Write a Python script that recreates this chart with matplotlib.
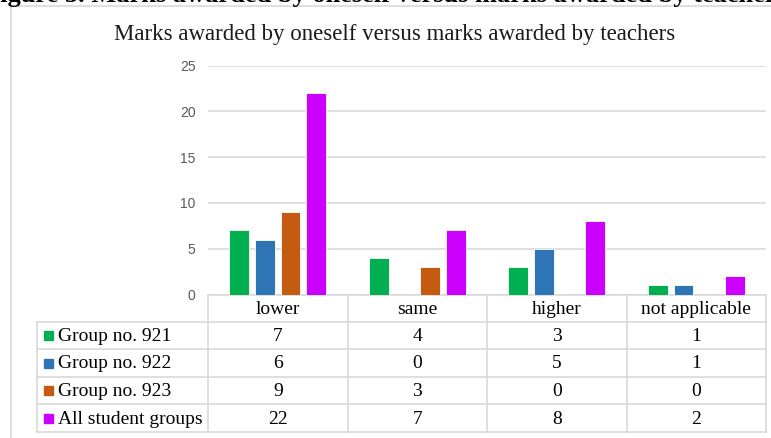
import numpy as np
import matplotlib.pyplot as plt
from matplotlib.patches import Rectangle

# marks comparison: self-assessed vs teacher-assessed
categories = ['lower', 'same', 'higher', 'not applicable']
groups = ['Group no. 921', 'Group no. 922', 'Group no. 923', 'All student groups']
group_921 = [7, 4, 3, 1]
group_922 = [6, 0, 5, 1]
group_923 = [9, 3, 0, 0]
all_groups = [22, 7, 8, 2]
colors = ['#00B050', '#2E75B6', '#C55A11', '#CC00FF']
yticks = [0, 5, 10, 15, 20, 25]

series = [group_921, group_922, group_923, all_groups]

W, H = 771, 438
SERIF = 'Liberation Serif'
SANS = 'Liberation Sans'
GRID = '#d9d9d9'

fig = plt.figure(figsize=(W / 100, H / 100), dpi=100)

# overlay in pixel coordinates for frame, title and table
ov = fig.add_axes([0, 0, 1, 1])
ov.set_xlim(0, W)
ov.set_ylim(H, 0)
ov.axis('off')

# chart frame (runs off the right/bottom edge)
ov.add_patch(Rectangle((11, 6), W + 20, H + 20, fill=False, ec=GRID, lw=1.2))

# caption line above the chart, cut by the top edge
fig.text(-16 / W, 1 - 2 / H, 'Figure 5. Marks awarded by oneself versus marks awarded by teachers',
         fontfamily=SERIF, fontweight='bold', fontsize=19, va='baseline', ha='left')

ov.text(395, 40, 'Marks awarded by oneself versus marks awarded by teachers',
        fontfamily=SERIF, fontsize=16.5, ha='center', va='baseline', color='#1a1a1a')

# plot area
left, right, top, bottom = 208, 766, 65.7, 294.5
ax = fig.add_axes([left / W, 1 - bottom / H, (right - left) / W, (bottom - top) / H])
ax.set_xlim(-0.5, len(categories) - 0.5)
ax.set_ylim(0, 25)
ax.set_yticks(yticks)
ax.set_xticks([])
ax.tick_params(axis='y', length=0, pad=9, labelsize=10, labelcolor='#595959')
for lab in ax.get_yticklabels():
    lab.set_fontfamily(SANS)
ax.grid(axis='y', color=GRID, lw=1.2)
ax.set_axisbelow(True)
for s in ax.spines.values():
    s.set_visible(False)
ax.patch.set_alpha(0)

x = np.arange(len(categories))
step = 0.183
width = 0.143
for i, (vals, c) in enumerate(zip(series, colors)):
    ax.bar(x + (i - 1.5) * step, vals, width, color=c, ec='white', lw=0.6, zorder=3)

# data table under the plot
col_edges = np.linspace(left, right, len(categories) + 1)
row_edges = [295, 322, 349, 377, 404, 432]
tleft = 37

ov.plot([left, right], [row_edges[0]] * 2, color=GRID, lw=1.2)
for y in row_edges[1:]:
    ov.plot([tleft, right], [y, y], color=GRID, lw=1.2)
for xe in col_edges:
    ov.plot([xe, xe], [row_edges[0], row_edges[-1]], color=GRID, lw=1.2)
ov.plot([tleft, tleft], [row_edges[1], row_edges[-1]], color=GRID, lw=1.2)

centers = (col_edges[:-1] + col_edges[1:]) / 2
for cx, cat in zip(centers, categories):
    ov.text(cx, (row_edges[0] + row_edges[1]) / 2 + 1, cat, fontfamily=SERIF, fontsize=14,
            ha='center', va='center')

for r, (name, vals, c) in enumerate(zip(groups, series, colors)):
    cy = (row_edges[r + 1] + row_edges[r + 2]) / 2
    ov.add_patch(Rectangle((44, cy - 4.5), 9, 9, color=c))
    ov.text(58, cy + 1, name, fontfamily=SERIF, fontsize=14, ha='left', va='center')
    for cx, v in zip(centers, vals):
        ov.text(cx, cy + 1, str(v), fontfamily=SERIF, fontsize=14, ha='center', va='center')

fig.savefig('out.png', dpi=100)
